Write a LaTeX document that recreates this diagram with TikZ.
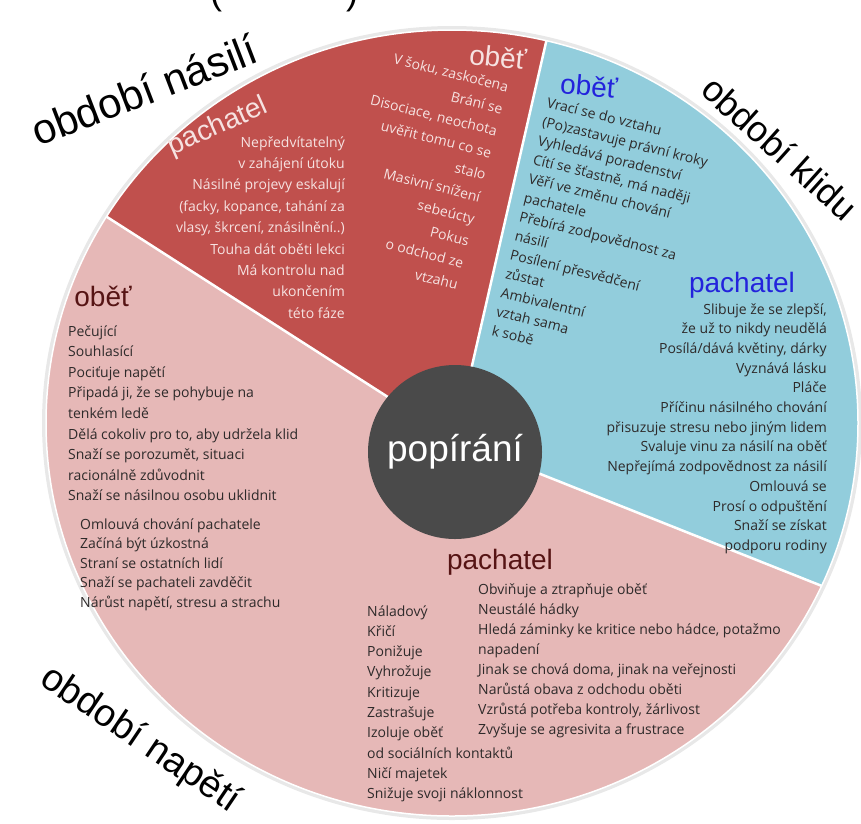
\documentclass[tikz,border=0pt]{standalone}
\usepackage{fontspec}
\setmainfont{Open Sans}
\newfontfamily\arialfont{Liberation Sans}
\usetikzlibrary{calc}

\definecolor{nasiliRed}{HTML}{C0504D}
\definecolor{kliduBlue}{HTML}{92CDDC}
\definecolor{napetiPink}{HTML}{E6B8B7}
\definecolor{denialGray}{HTML}{4A4A4A}
\definecolor{paleText}{HTML}{F6E2E1}
\definecolor{roleBlue}{HTML}{2323DC}
\definecolor{roleBrown}{HTML}{561414}
\definecolor{bodyDark}{HTML}{2E2A2A}

\begin{document}
\begin{tikzpicture}[x=1pt, y=-1pt,
    phase/.style={font=\arialfont\fontsize{36}{36}\selectfont, inner sep=0pt},
    role/.style={font=\arialfont\fontsize{28}{28}\selectfont, inner sep=0pt},
    item/.style={font=\fontsize{14}{16}\selectfont, inner sep=0pt, text=bodyDark},
    divider/.style={white, line width=2.5pt}]

    \useasboundingbox (0,0) rectangle (861,823);

    \coordinate (C) at (452,423);
    \coordinate (P) at (455,440);
    \coordinate (A) at (93,208);
    \coordinate (B) at (547,38);
    \coordinate (D) at (832,590);

    % pie with three phases
    \fill[gray!18] (C) ellipse [x radius=410, y radius=397];
    \begin{scope}
        \clip (C) ellipse [x radius=406, y radius=393];
        \fill[napetiPink] (0,0) rectangle (861,823);
        \fill[nasiliRed] (P) -- ($(P)!2!(A)$) -- (-300,-300) -- ($(P)!2!(B)$) -- cycle;
        \fill[kliduBlue] (P) -- ($(P)!2!(B)$) -- (1200,-300) -- ($(P)!2!(D)$) -- cycle;
        \draw[divider] ($(P)!2!(A)$) -- (P) -- ($(P)!2!(B)$) (P) -- ($(P)!2!(D)$);
    \end{scope}
    \draw[white, line width=1.5pt] (C) ellipse [x radius=406, y radius=393];

    \node[circle, fill=denialGray, minimum size=174pt, inner sep=0pt, text=white,
        font=\arialfont\fontsize{37}{37}\selectfont] (denial) at (455,452) {popírání};

    % phase names outside
    \node[phase, anchor=base] (title) at (284,4) {(\hspace{124pt})};
    \node[phase, font=\arialfont\fontsize{42}{42}\selectfont, rotate=21] (lblNasili) at (144,90) {období násilí};
    \node[phase, rotate=-42] (lblKlidu) at (780,148) {období klidu};
    \node[phase, font=\arialfont\fontsize{38}{38}\selectfont, rotate=-34] (lblNapeti) at (140,740) {období napětí};

    % období násilí
    \node[role, text=paleText, rotate=-6] (nVictim) at (498,57) {oběť};
    \node[role, text=paleText, rotate=24] (nAbuser) at (218,127) {pachatel};
    \foreach \txt [count=\i from 0] in {{V šoku, zaskočena}, Brání se,
        {Disociace, neochota}, uvěřit tomu co se, stalo, Masivní snížení,
        sebeúcty, Pokus, o odchod ze, vtzahu}
        \node[item, text=paleText, anchor=base east, rotate=-14]
            (nv\i) at ({507-5.6*\i},{92+22*\i}) {\txt};
    \foreach \txt [count=\i from 0] in {Nepředvítatelný, v zahájení útoku,
        Násilné projevy eskalují, {(facky, kopance, tahání za},
        {vlasy, škrcení, znásilnění..)}, Touha dát oběti lekci,
        Má kontrolu nad, ukončením, této fáze}
        \node[item, text=paleText, anchor=base east]
            (na\i) at (345,{147+21.4*\i}) {\txt};

    % období klidu
    \node[role, text=roleBlue, rotate=-5] (kVictim) at (589,86) {oběť};
    \node[role, text=roleBlue] (kAbuser) at (742,285) {pachatel};
    \foreach \txt [count=\i from 0] in {Vrací se do vztahu, (Po)zastavuje právní kroky,
        Vyhledává poradenství, {Cítí se šťastně, má naději}, Věří ve změnu chování,
        pachatele, Přebírá zodpovědnost za, násilí, Posílení přesvědčení, zůstat,
        Ambivalentní, vztah sama, k sobě}
        \node[item, anchor=base west, rotate=-14]
            (kv\i) at ({546-4.6*\i},{107+19*\i}) {\txt};
    \foreach \txt [count=\i from 0] in {{Slibuje že se zlepší,}, že už to nikdy neudělá,
        {Posílá/dává květiny, dárky}, Vyznává lásku, Pláče, Příčinu násilného chování,
        přisuzuje stresu nebo jiným lidem, Svaluje vinu za násilí na oběť,
        Nepřejímá zodpovědnost za násilí, Omlouvá se, Prosí o odpuštění,
        Snaží se získat, podporu rodiny}
        \node[item, anchor=base east] (ka\i) at (827,{314+19.7*\i}) {\txt};

    % období napětí
    \node[role, text=roleBrown] (tVictim) at (103,296) {oběť};
    \node[role, text=roleBrown] (tAbuser) at (500,562) {pachatel};
    \foreach \txt [count=\i from 0] in {Pečující, Souhlasící, Pociťuje napětí,
        {Připadá ji, že se pohybuje na}, tenkém ledě,
        {Dělá cokoliv pro to, aby udržela klid}, {Snaží se porozumět, situaci},
        racionálně zdůvodnit, Snaží se násilnou osobu uklidnit}
        \node[item, anchor=base west] (tv\i) at (68,{336+20.6*\i}) {\txt};
    \foreach \txt [count=\i from 0] in {Omlouvá chování pachatele, Začíná být úzkostná,
        Straní se ostatních lidí, Snaží se pachateli zavděčit,
        {Nárůst napětí, stresu a strachu}}
        \node[item, anchor=base west] (tw\i) at (80,{529+19.5*\i}) {\txt};
    \foreach \txt [count=\i from 0] in {Náladový, Křičí, Ponižuje, Vyhrožuje,
        Kritizuje, Zastrašuje, Izoluje oběť, od sociálních kontaktů,
        Ničí majetek, Snižuje svoji náklonnost}
        \node[item, anchor=base west] (ta\i) at (367,{616+20.3*\i}) {\txt};
    \foreach \txt [count=\i from 0] in {Obviňuje a ztrapňuje oběť, Neustálé hádky,
        {Hledá záminky ke kritice nebo hádce, potažmo}, napadení,
        {Jinak se chová doma, jinak na veřejnosti}, Narůstá obava z odchodu oběti,
        {Vzrůstá potřeba kontroly, žárlivost}, Zvyšuje se agresivita a frustrace}
        \node[item, anchor=base west] (tb\i) at (478,{594+20*\i}) {\txt};

\end{tikzpicture}
\end{document}
